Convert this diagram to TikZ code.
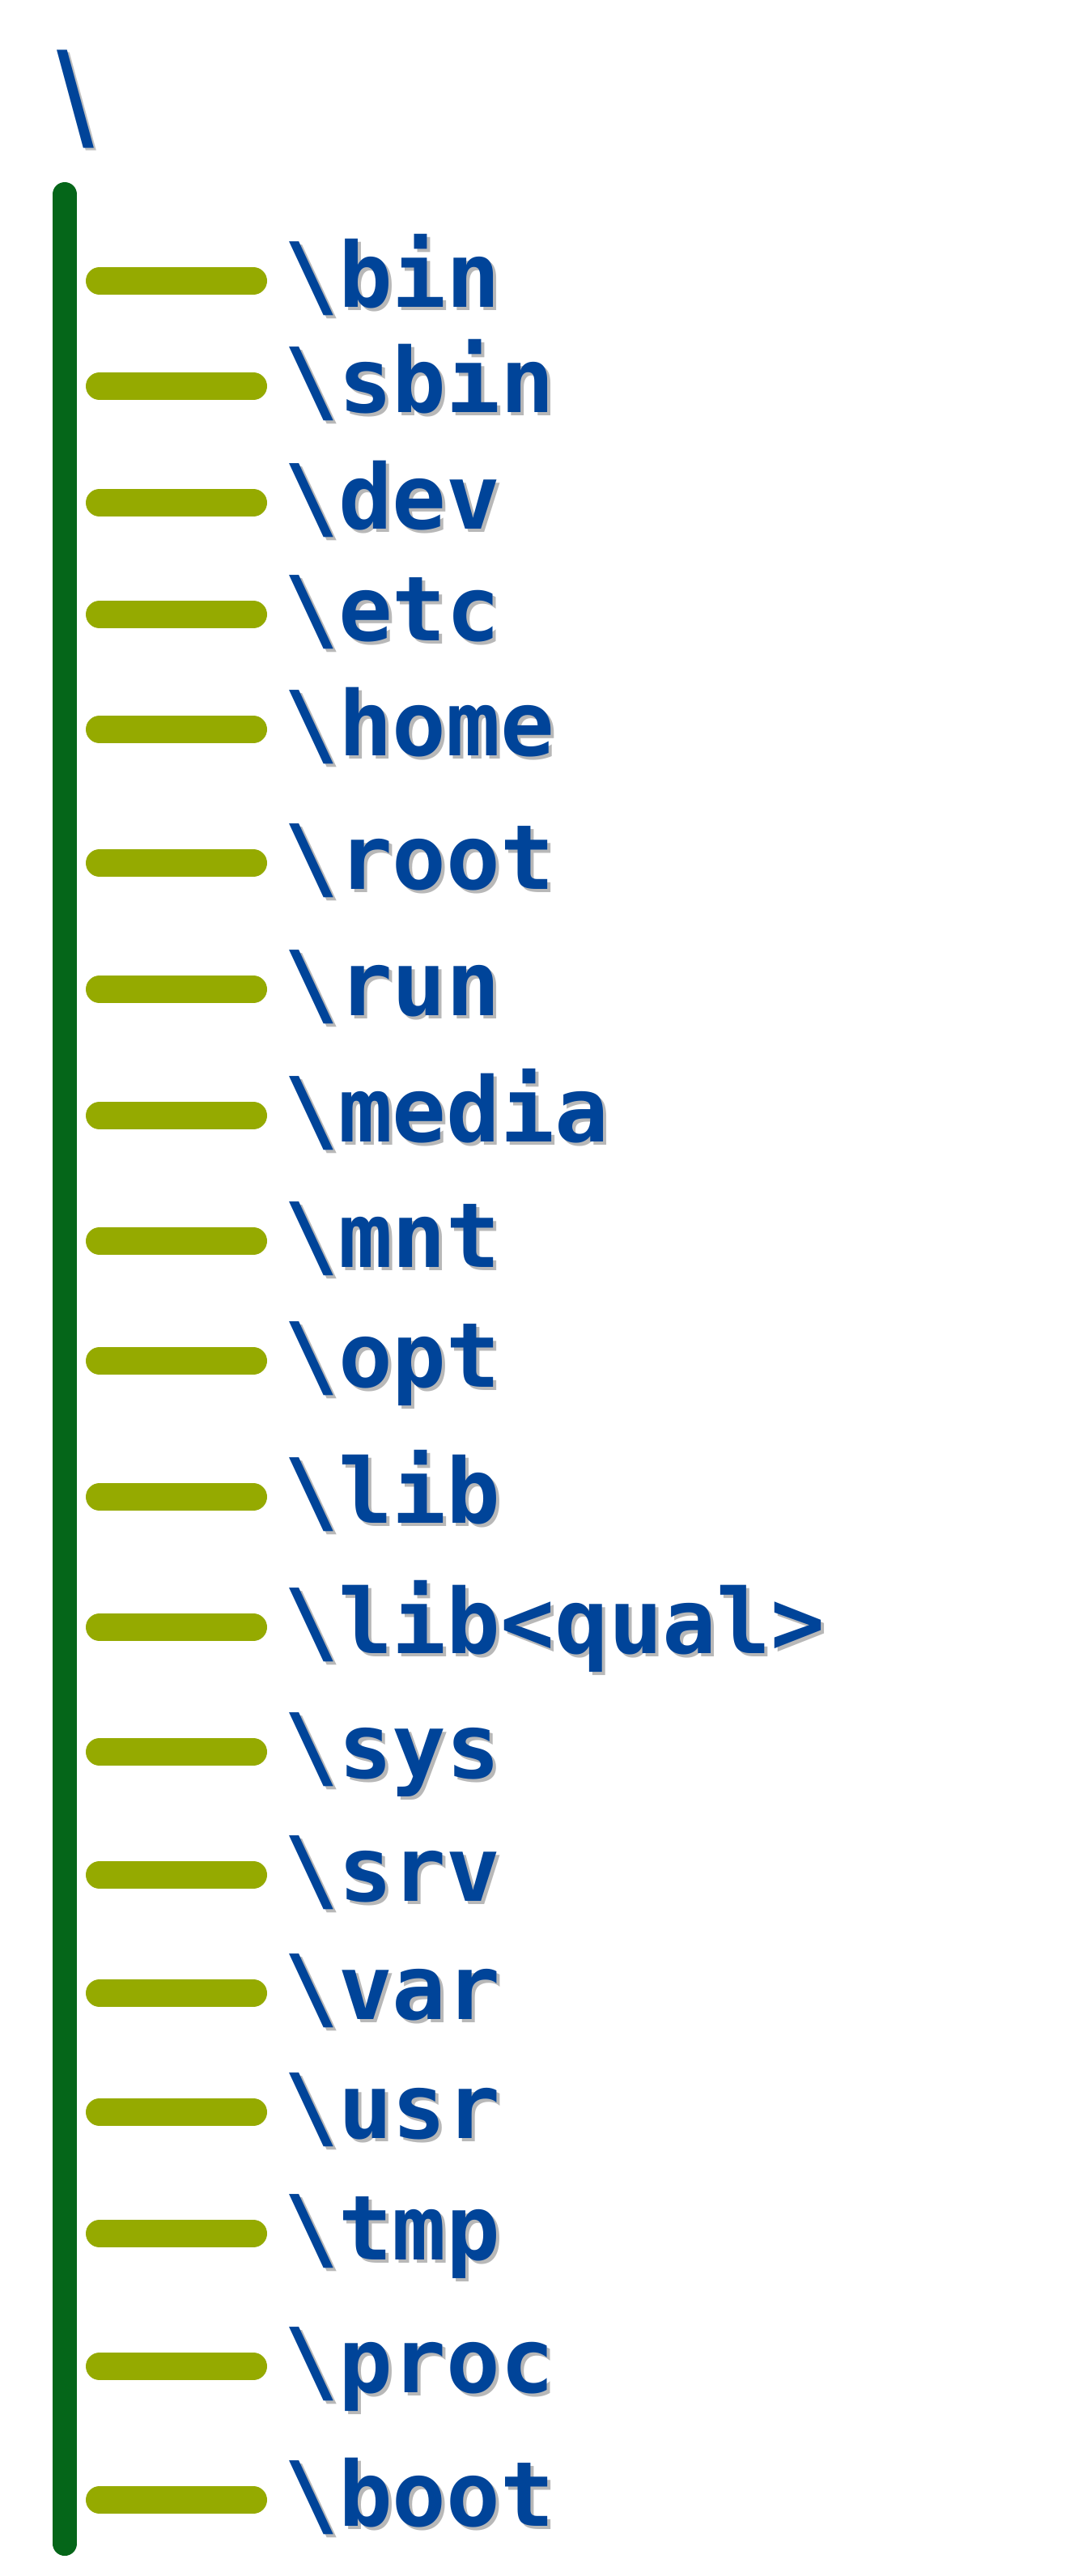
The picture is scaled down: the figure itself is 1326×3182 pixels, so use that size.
\documentclass[tikz,border=0pt]{standalone}
\usepackage{fontspec}
\newfontfamily\monob{DejaVu Sans Mono}[BoldFont={* Bold}]
\newfontfamily\rootfont{Liberation Sans}
\definecolor{dirblue}{RGB}{0,68,153}
\definecolor{trunkgreen}{RGB}{5,102,25}
\definecolor{brancholive}{RGB}{149,170,0}
\tikzset{
  dirlabel/.style={anchor=base west,inner sep=0pt,text=dirblue,font=\monob\bfseries\fontsize{111}{111}\selectfont},
  dirshadow/.style={dirlabel,text=black,opacity=0.28},
  trunkline/.style={draw=trunkgreen,line width=30pt,line cap=round},
  branchline/.style={draw=brancholive,line width=34pt,line cap=round}
}
\begin{document}
\begin{tikzpicture}[x=1pt,y=-1pt]
\useasboundingbox[fill=white] (0,0) rectangle (1326,3182);
\node[anchor=base west,inner sep=0pt,text=black,opacity=0.25,font=\rootfont\fontsize{165}{165}\selectfont] at (73,184) {\textbackslash};
\node (root) [anchor=base west,inner sep=0pt,text=dirblue,font=\rootfont\fontsize{165}{165}\selectfont] at (70,181) {\textbackslash};
\coordinate (ttop) at (80,240);
\coordinate (tbot) at (80,3142);
\draw[trunkline] (ttop) -- (tbot);
\foreach \y/\n [count=\i] in {347/bin,477/sbin,621/dev,759/etc,901/home,1066/root,1222/run,1378/media,1533/mnt,1681/opt,1849/lib,2010/lib<qual>,2164/sys,2316/srv,2462/var,2609/usr,2759/tmp,2923/proc,3088/boot}{
  \coordinate (b\i) at (123,\y);
  \coordinate (e\i) at (313,\y);
  \draw[branchline] (b\i) -- (e\i);
  \node[dirshadow] at (355,\y+36) {\textbackslash\n};
  \node[dirlabel] (d\i) at (351,\y+32) {\textbackslash\n};
}
\end{tikzpicture}
\end{document}
